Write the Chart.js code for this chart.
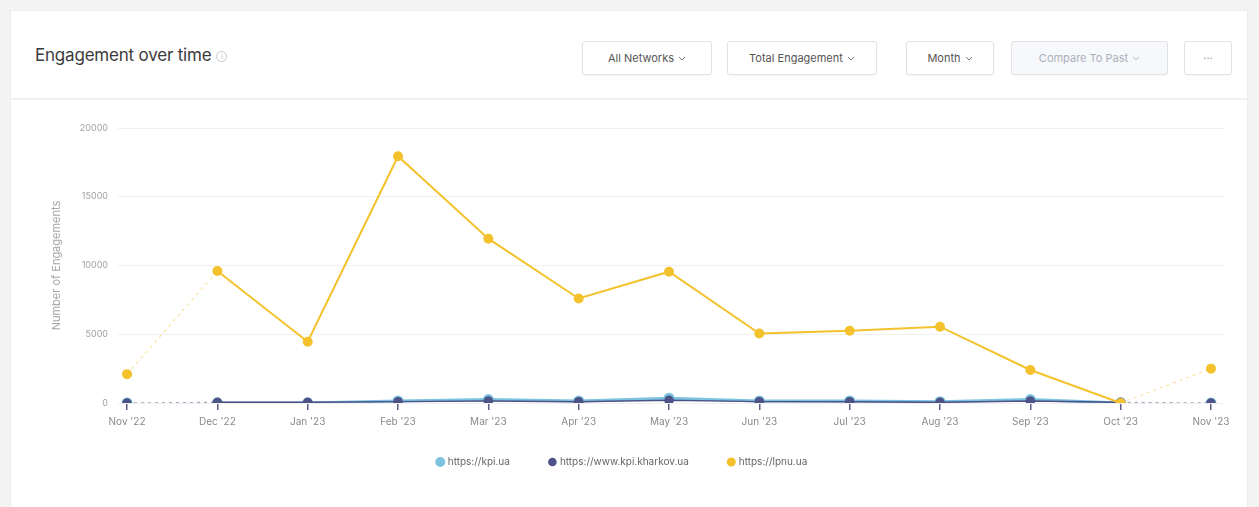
<!DOCTYPE html>
<html>
<head>
<meta charset="utf-8">
<script src="https://cdn.jsdelivr.net/npm/chart.js@4.4.0/dist/chart.umd.min.js"></script>
<style>
  html,body{margin:0;padding:0;background:#f4f4f4;width:1259px;height:507px;overflow:hidden;font-family:Inter,"Open Sans",sans-serif;}
  #card{position:absolute;left:10px;top:10px;width:1238px;height:520px;background:#fff;border:1px solid #ececec;box-sizing:border-box;}
  #header{position:absolute;left:0;top:0;width:100%;height:87px;border-bottom:2px solid #f0f0f0;}
  #title{position:absolute;left:24px;top:34px;font-size:17px;color:#3b3b3b;letter-spacing:-0.2px;}
  #title .info{display:inline-block;width:9px;height:9px;border:1px solid #c8c8c8;border-radius:50%;font-size:7px;line-height:9px;text-align:center;color:#bbb;vertical-align:2px;margin-left:5px;}
  .btn{position:absolute;top:30px;height:34px;border:1px solid #e2e2e2;border-radius:3px;background:#fff;font-size:11px;color:#555;display:flex;align-items:center;justify-content:center;box-sizing:border-box;box-shadow:0 1px 2px rgba(0,0,0,0.04);}
  .btn svg{margin-left:4px;}
  .btn.dis{background:#f6f8fb;color:#aab0bb;}
  #chartwrap{position:absolute;left:20px;top:108px;width:1220px;height:388px;}
</style>
</head>
<body>
<div id="card">
  <div id="header">
    <div id="title">Engagement over time<span class="info">i</span></div>
    <div class="btn" style="left:571px;width:130px;">All Networks<svg width="8" height="5" viewBox="0 0 8 5"><path d="M1 1l3 3 3-3" fill="none" stroke="#777" stroke-width="1"/></svg></div>
    <div class="btn" style="left:716px;width:150px;">Total Engagement<svg width="8" height="5" viewBox="0 0 8 5"><path d="M1 1l3 3 3-3" fill="none" stroke="#777" stroke-width="1"/></svg></div>
    <div class="btn" style="left:895px;width:88px;">Month<svg width="8" height="5" viewBox="0 0 8 5"><path d="M1 1l3 3 3-3" fill="none" stroke="#777" stroke-width="1"/></svg></div>
    <div class="btn dis" style="left:1000px;width:157px;">Compare To Past<svg width="8" height="5" viewBox="0 0 8 5"><path d="M1 1l3 3 3-3" fill="none" stroke="#b5bac4" stroke-width="1"/></svg></div>
    <div class="btn" style="left:1173px;width:48px;color:#999;">···</div>
  </div>
</div>
<div id="chartwrap"><canvas id="c"></canvas></div>
<script>
const categories = ["Nov '22","Dec '22","Jan '23","Feb '23","Mar '23","Apr '23","May '23","Jun '23","Jul '23","Aug '23","Sep '23","Oct '23","Nov '23"];
const kpiUa      = [0, 0, 0, 150, 250, 150, 350, 150, 150, 100, 250, 0, 0];
const kpiKharkov = [0, 50, 50, 100, 150, 100, 200, 100, 100, 50, 150, 50, 0];
const lpnuUa     = [2100, 9600, 4450, 17950, 11950, 7600, 9550, 5050, 5250, 5550, 2400, 0, 2500];
const seriesNames = ["https://kpi.ua", "https://www.kpi.kharkov.ua", "https://lpnu.ua"];
const yTicks = [0, 5000, 10000, 15000, 20000];

const lastIdx = categories.length - 1;
function toXY(arr){ return arr.map((v,i)=>({x:i,y:v})); }
function fade(hex, a){
  const n = parseInt(hex.slice(1),16);
  return `rgba(${(n>>16)&255},${(n>>8)&255},${n&255},${a})`;
}
function isEdge(ctx){ return ctx.p0DataIndex === 0 || ctx.p1DataIndex === lastIdx; }
function mkSet(label, arr, color, width){
  return {
    label, data: toXY(arr),
    borderColor: color, backgroundColor: color,
    pointBackgroundColor: color, pointBorderColor: color,
    borderWidth: width, pointRadius: 4, pointHoverRadius: 4,
    tension: 0,
    segment: {
      borderDash: ctx => isEdge(ctx) ? [3,4] : undefined,
      borderColor: ctx => isEdge(ctx) ? fade(color,0.45) : color,
      borderWidth: ctx => isEdge(ctx) ? 1.2 : width
    }
  };
}

// nudge the legend up after layout (legend padding is used both horizontally and vertically)
const legendShift = {
  id: 'legendShift',
  afterLayout(chart){
    if (chart.legend){ chart.legend.top -= 17; chart.legend.bottom -= 17; }
  }
};

new Chart(document.getElementById('c'), {
  type: 'line',
  plugins: [legendShift],
  data: {
    datasets: [
      mkSet(seriesNames[2], lpnuUa, '#f3c22c', 2),
      mkSet(seriesNames[1], kpiKharkov, '#4d5287', 1.5),
      mkSet(seriesNames[0], kpiUa, '#7cc3e0', 3)
    ]
  },
  options: {
    responsive: true, maintainAspectRatio: false, animation: false,
    layout: { padding: { top: 20, right: 15, left: 0, bottom: 2 } },
    plugins: {
      tooltip: { enabled: false },
      legend: {
        position: 'bottom',
        labels: {
          usePointStyle: true, pointStyle: 'circle', boxWidth: 5, boxHeight: 5,
          padding: 40, color: '#666', font: { family: 'Inter', size: 10 },
          sort: (a,b) => seriesNames.indexOf(a.text) - seriesNames.indexOf(b.text)
        }
      }
    },
    scales: {
      x: {
        type: 'linear', min: -0.1, max: 12.155,
        afterBuildTicks: s => { s.ticks = categories.map((_,i)=>({value:i})); },
        ticks: { autoSkip: false, maxRotation: 0, padding: 6, color: '#8a8a8a', font: { family: 'Inter', size: 10 },
                 callback: v => categories[v] },
        grid: { drawOnChartArea: false, drawTicks: true, tickLength: 7, color: '#5b6088', lineWidth: 1.5 },
        border: { display: false }
      },
      y: {
        min: 0, max: 20000,
        afterBuildTicks: s => { s.ticks = yTicks.map(v=>({value:v})); },
        afterFit: s => { s.width = 98; },
        ticks: { padding: 10, color: '#a0a0a0', font: { family: 'Inter', size: 9 }, callback: v => String(v) },
        grid: { color: '#f0f0f0', drawTicks: false, lineWidth: 1 },
        border: { display: false },
        title: { display: true, text: 'Number of Engagements', color: '#a6a6a6', font: { family: 'Inter', size: 11 }, padding: { top: 30, bottom: 0 } }
      }
    }
  }
});
</script>
</body>
</html>
